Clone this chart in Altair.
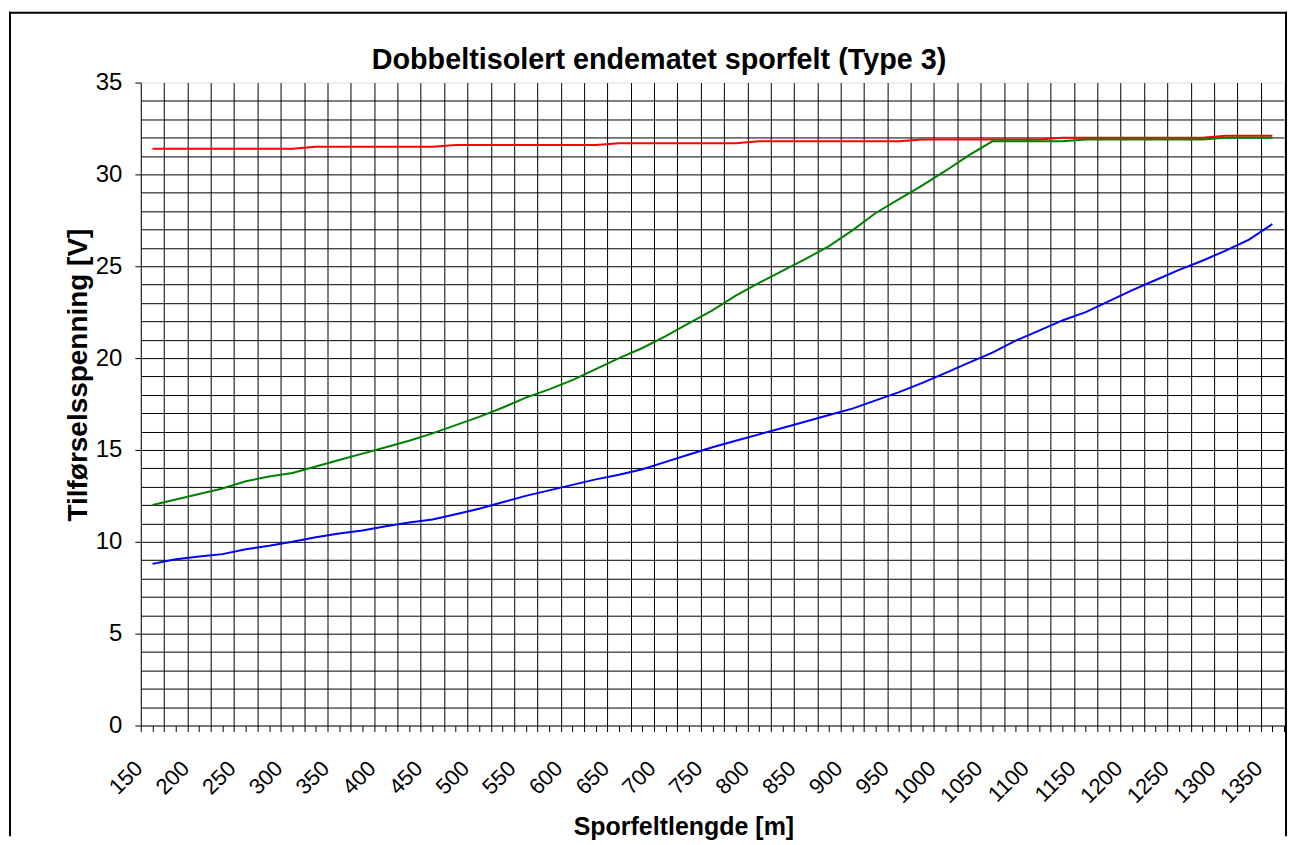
import altair as alt
import pandas as pd

# ---- data ----
lengde = [150, 175, 200, 225, 250, 275, 300, 325, 350, 375, 400, 425, 450, 475,
          500, 525, 550, 575, 600, 625, 650, 675, 700, 725, 750, 775, 800, 825,
          850, 875, 900, 925, 950, 975, 1000, 1025, 1050, 1075, 1100, 1125, 1150,
          1175, 1200, 1225, 1250, 1275, 1300, 1325, 1350]

rod = [31.4, 31.4, 31.4, 31.4, 31.4, 31.4, 31.4,
       31.5, 31.5, 31.5, 31.5, 31.5, 31.5,
       31.6, 31.6, 31.6, 31.6, 31.6, 31.6, 31.6,
       31.7, 31.7, 31.7, 31.7, 31.7, 31.7,
       31.8, 31.8, 31.8, 31.8, 31.8, 31.8, 31.8,
       31.9, 31.9, 31.9, 31.9, 31.9, 31.9,
       32.0, 32.0, 32.0, 32.0, 32.0, 32.0, 32.0,
       32.1, 32.1, 32.1]

gronn = [12.0, 12.3, 12.6, 12.9, 13.3, 13.55, 13.75, 14.1, 14.45, 14.8, 15.15,
         15.5, 15.9, 16.35, 16.8, 17.3, 17.85, 18.3, 18.8, 19.4, 20.0, 20.55,
         21.2, 21.9, 22.6, 23.4, 24.1, 24.75, 25.4, 26.1, 26.95, 27.9, 28.65,
         29.4, 30.2, 31.05, 31.8, 31.8, 31.8, 31.8, 31.9, 31.9, 31.9, 31.9,
         31.9, 31.9, 32.0, 32.0, 32.0]

bla = [8.8, 9.05, 9.2, 9.33, 9.6, 9.78, 10.0, 10.25, 10.45, 10.62, 10.85,
       11.05, 11.22, 11.5, 11.8, 12.15, 12.5, 12.8, 13.1, 13.4, 13.65, 13.95,
       14.35, 14.75, 15.15, 15.5, 15.85, 16.2, 16.55, 16.9, 17.25, 17.7, 18.15,
       18.65, 19.2, 19.75, 20.3, 20.95, 21.5, 22.05, 22.5, 23.1, 23.7, 24.25,
       24.8, 25.3, 25.85, 26.45, 27.3]

serier = ["rød", "grønn", "blå"]
farger = ["#FF0000", "#008000", "#0000FF"]

x_ticks = [137.5 + 12.5 * k for k in range(99)]
y_ticks = list(range(0, 36))

tittel = "Dobbeltisolert endematet sporfelt (Type 3)"
x_tittel = "Sporfeltlengde [m]"
y_tittel = "Tilførselsspenning [V]"

rows = []
for navn, verdier in zip(serier, [rod, gronn, bla]):
    for l, v in zip(lengde, verdier):
        rows.append({"lengde": l, "spenning": v, "serie": navn})
df = pd.DataFrame(rows)

FONT = "Liberation Sans"
W, H = 1145, 644

x_axis = alt.Axis(
    values=x_ticks,
    grid=True,
    gridColor="black",
    gridWidth=1,
    gridOpacity={"condition": {"test": "(datum.value - 137.5) % 25 === 0 && datum.value > 140 && datum.value < 1360", "value": 1}, "value": 0},
    ticks=True, tickSize=6, tickColor="black", tickWidth=1,
    domain=True, domainColor="black", domainWidth=1,
    labelExpr="datum.value % 50 === 0 ? format(datum.value, 'd') : ''",
    labelAngle=315, labelAlign="right", labelBaseline="middle",
    labelOffset=-14, labelPadding=33,
    labelFont=FONT, labelFontSize=22, labelColor="black",
    labelOverlap=False, labelFlush=False,
    title=None,
)

y_axis = alt.Axis(
    values=y_ticks,
    grid=True,
    gridColor="black",
    gridWidth=1,
    gridOpacity={"condition": {"test": "datum.value > 0 && datum.value < 35", "value": 1}, "value": 0},
    ticks=True, tickSize=6, tickColor="black", tickWidth=1,
    tickOpacity={"condition": {"test": "datum.value % 5 === 0", "value": 1}, "value": 0},
    domain=True, domainColor="black", domainWidth=1,
    labelExpr="datum.value % 5 === 0 ? format(datum.value, 'd') : ''",
    labelFont=FONT, labelFontSize=24, labelColor="black", labelPadding=13,
    labelOverlap=False, labelFlush=False,
    title=None,
)

lines = alt.Chart(df).mark_line(strokeWidth=2).encode(
    x=alt.X("lengde:Q", scale=alt.Scale(domain=[137.5, 1362.5], nice=False, zero=False), axis=x_axis),
    y=alt.Y("spenning:Q", scale=alt.Scale(domain=[0, 35], nice=False, zero=True), axis=y_axis),
    color=alt.Color("serie:N", scale=alt.Scale(domain=serier, range=farger), legend=None),
    detail="serie:N",
)

one = pd.DataFrame({"k": [0]})

# outer chart border (left, top, right; the bottom runs off the picture)
border_left = alt.Chart(one).mark_rule(color="black", strokeWidth=2).encode(
    x=alt.value(-131), y=alt.value(-71), y2=alt.value(755)
)
border_top = alt.Chart(one).mark_rule(color="black", strokeWidth=2).encode(
    x=alt.value(-132), x2=alt.value(1148), y=alt.value(-70)
)
border_right = alt.Chart(one).mark_rule(color="black", strokeWidth=2).encode(
    x=alt.value(1147), y=alt.value(-71), y2=alt.value(755)
)

title_txt = alt.Chart(one).mark_text(
    text=tittel, font=FONT, fontSize=28.8, fontWeight="bold", baseline="alphabetic", align="center"
).encode(x=alt.value(519), y=alt.value(-14))

xt = alt.Chart(one).mark_text(
    text=x_tittel, font=FONT, fontSize=25, fontWeight="bold", baseline="alphabetic", align="center"
).encode(x=alt.value(544), y=alt.value(H + 110))

yt = alt.Chart(one).mark_text(
    text=y_tittel, font=FONT, fontSize=28, fontWeight="bold", baseline="alphabetic", align="center", angle=270
).encode(x=alt.value(-54), y=alt.value(293))

chart = alt.layer(border_left, border_top, border_right, lines, title_txt, xt, yt).properties(
    width=W, height=H,
    padding={"left": 0, "top": 2, "right": 0, "bottom": 0},
).configure_view(stroke="#808080", strokeWidth=1.5).configure(background="white")

chart.save("out.html", embed_options={"renderer": "svg", "actions": False})
